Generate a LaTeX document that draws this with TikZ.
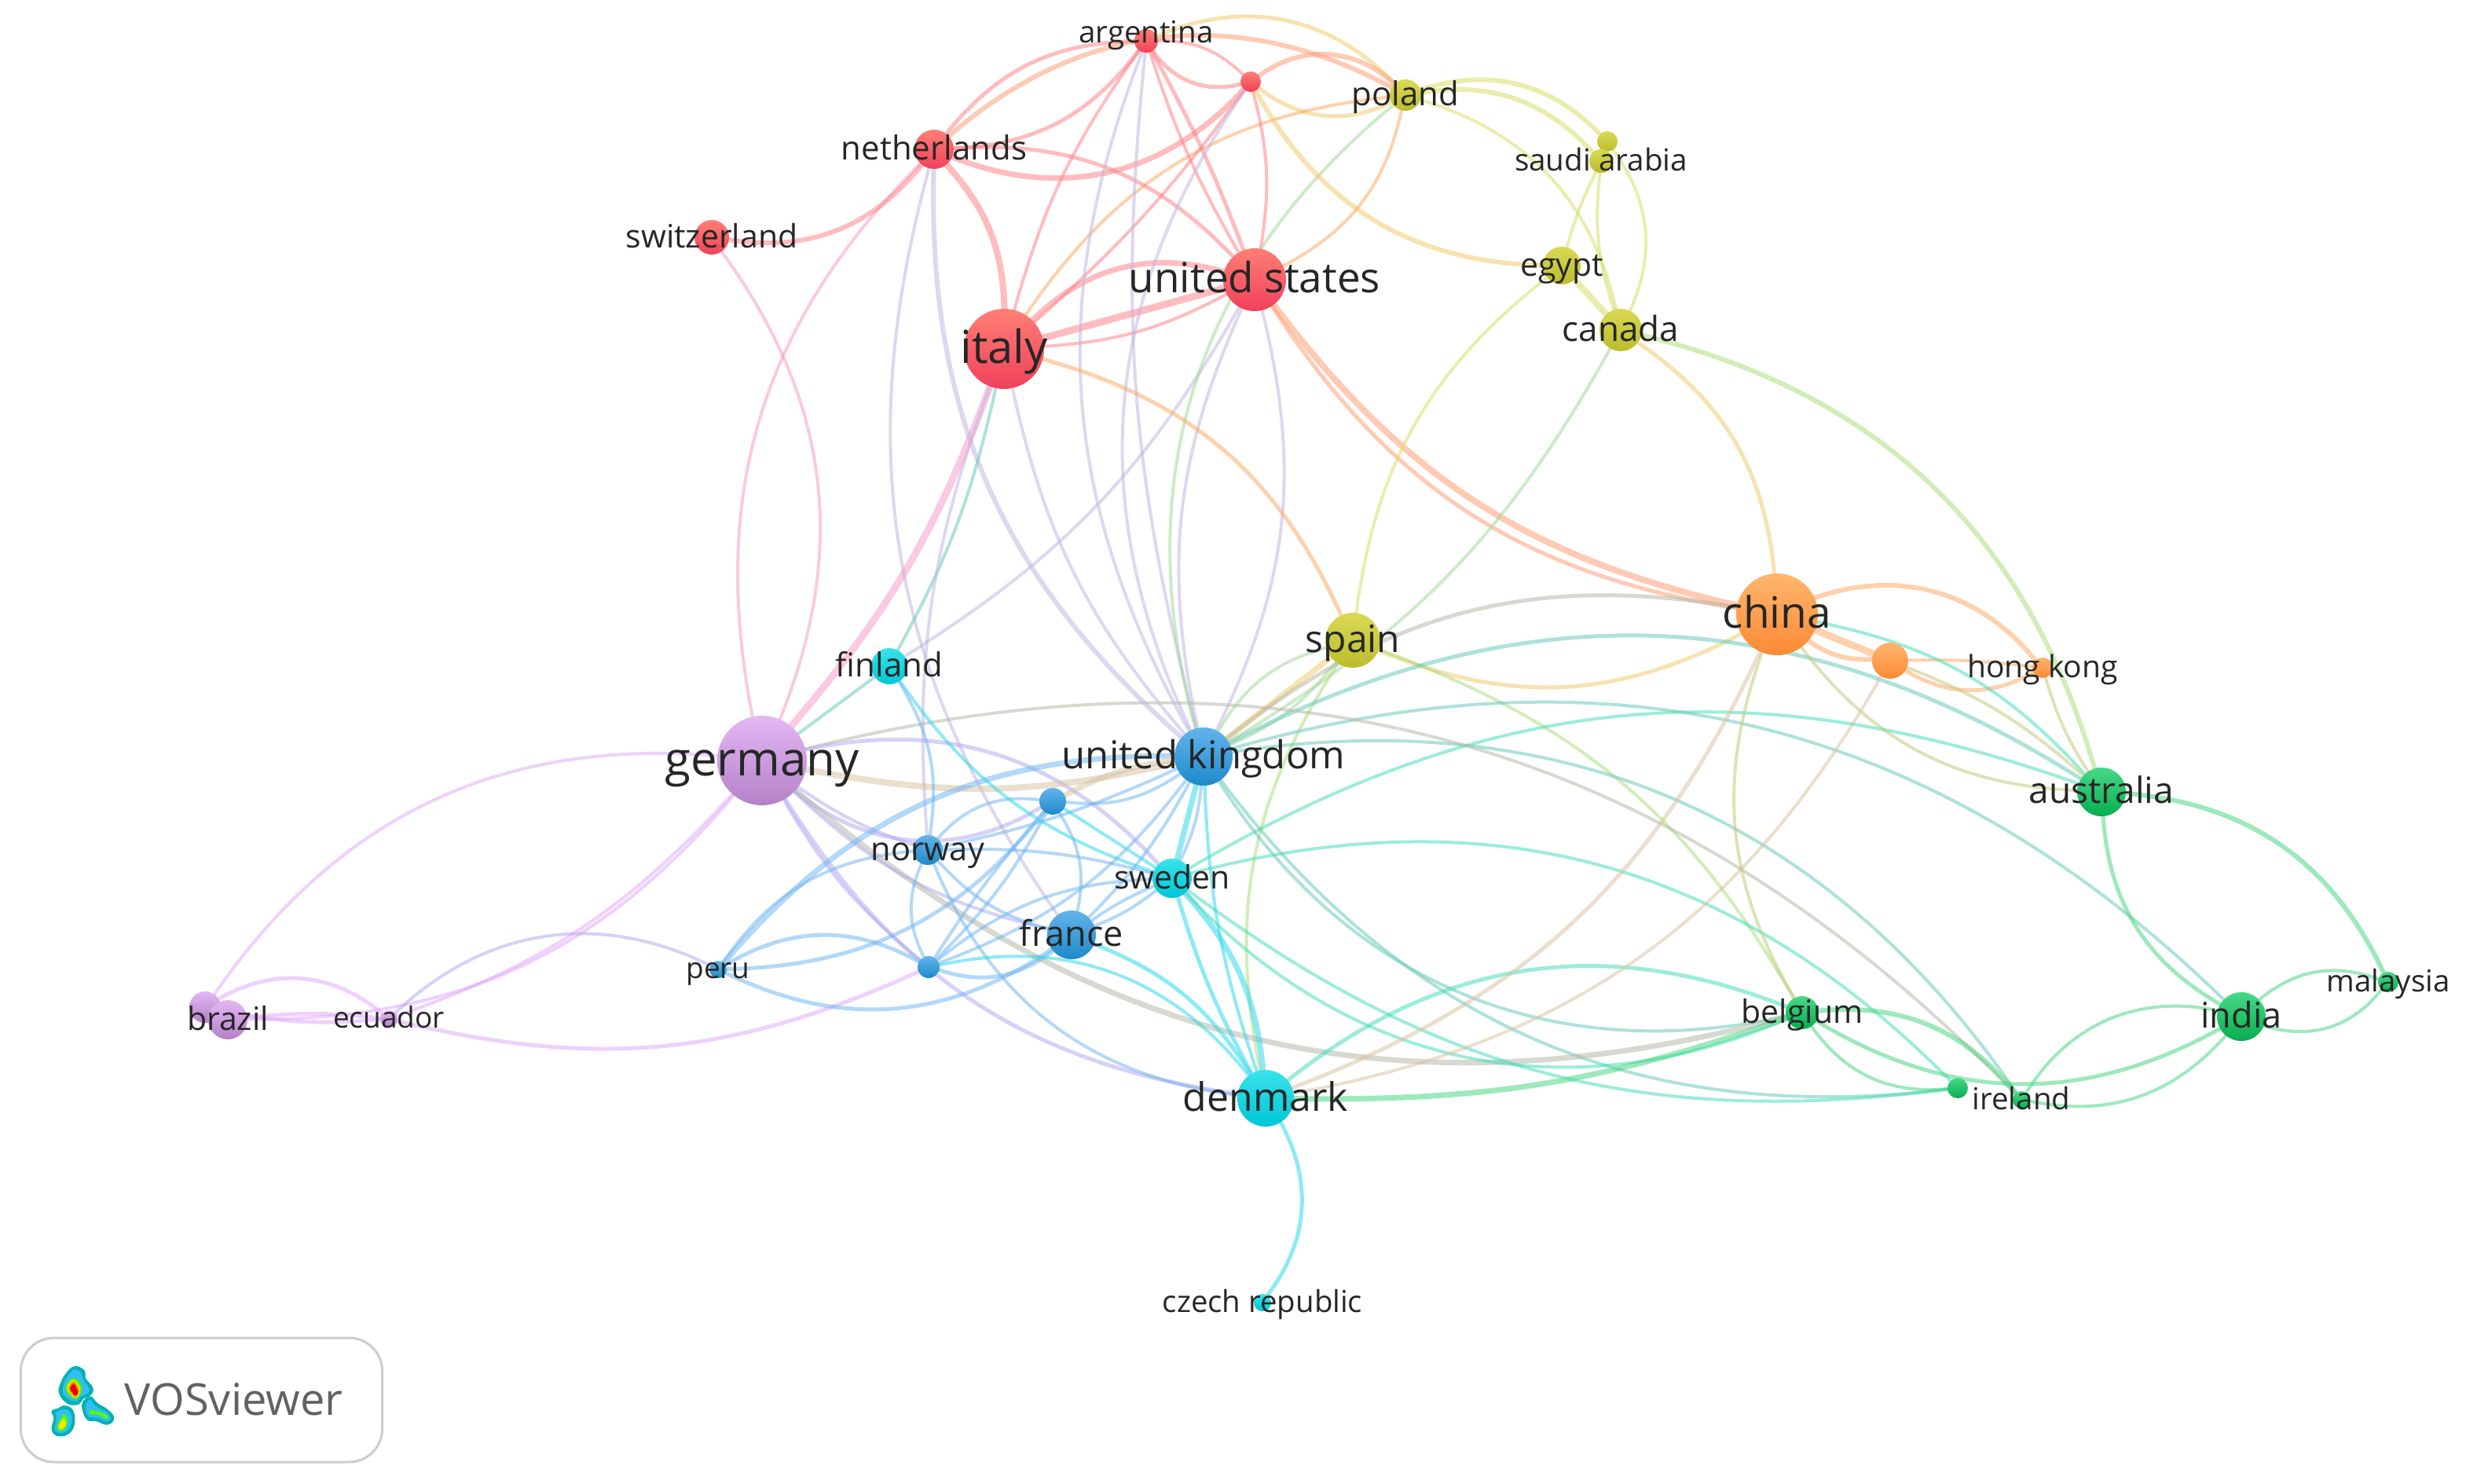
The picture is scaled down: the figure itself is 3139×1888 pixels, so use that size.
\documentclass[tikz,border=0pt]{standalone}
\usepackage{fontspec}
\setmainfont{Open Sans}
\pgfdeclarelayer{edges}
\pgfsetlayers{edges,main}
\definecolor{eR}{HTML}{FF8085}
\definecolor{eP}{HTML}{F59AC6}
\definecolor{ePu}{HTML}{E0A8FA}
\definecolor{eB}{HTML}{6FB6F2}
\definecolor{eC}{HTML}{25D8EA}
\definecolor{eG}{HTML}{45D57F}
\definecolor{eO}{HTML}{FDA860}
\definecolor{eY}{HTML}{D6DE60}
\definecolor{eRO}{HTML}{FF9A70}
\definecolor{eRB}{HTML}{C0B4E2}
\definecolor{eYG}{HTML}{A8DE78}
\definecolor{eYB}{HTML}{A0D898}
\definecolor{eCG}{HTML}{40DDB8}
\definecolor{eBG}{HTML}{62C8B8}
\definecolor{eOB}{HTML}{D8C2A0}
\definecolor{ePB}{HTML}{B0A8F0}
\definecolor{eGr}{HTML}{B4B8A8}
\definecolor{eOG}{HTML}{C0C878}
\definecolor{eYO}{HTML}{F0C868}
\definecolor{cRt}{HTML}{FF7F75}\definecolor{cRb}{HTML}{F0405A}
\definecolor{cYt}{HTML}{D9D955}\definecolor{cYb}{HTML}{BCBC2C}
\definecolor{cOt}{HTML}{FFB56E}\definecolor{cOb}{HTML}{FB8A34}
\definecolor{cGt}{HTML}{48D888}\definecolor{cGb}{HTML}{06AE50}
\definecolor{cCt}{HTML}{38E2EA}\definecolor{cCb}{HTML}{00C6D6}
\definecolor{cBt}{HTML}{62B4EA}\definecolor{cBb}{HTML}{1E8ACA}
\definecolor{cPt}{HTML}{E2B8F4}\definecolor{cPb}{HTML}{B580C8}
\definecolor{lab}{HTML}{262626}
\colorlet{logoT}{teal!60!cyan}
\colorlet{logoC}{cyan!80!white}
\tikzset{
  x=.25pt,y=-.25pt,
  edgeline/.style={draw opacity=.52,line cap=round,fill=none},
  bub/.style={circle,inner sep=0pt,outer sep=0pt,minimum size=#1},
  red/.style={top color=cRt,bottom color=cRb},
  oli/.style={top color=cYt,bottom color=cYb},
  ora/.style={top color=cOt,bottom color=cOb},
  gre/.style={top color=cGt,bottom color=cGb},
  cya/.style={top color=cCt,bottom color=cCb},
  blu/.style={top color=cBt,bottom color=cBb},
  pur/.style={top color=cPt,bottom color=cPb},
}
% [label lift], name, x, y, radius, style, text, font size (all in reference pixels)
\newcommand\N[8][0]{\pgfmathsetmacro\fsz{#8*.25}\pgfmathsetmacro\fht{#8*.25*.64}\pgfmathsetmacro\lft{#1*.25}%
\node[bub=#5*.5pt,#6,label={[text=lab,inner sep=0pt,yshift=\lft pt,text height=\fht pt,text depth=0pt,font=\fontsize{\fsz}{\fsz}\selectfont]center:#7}] (#2) at (#3,#4) {};}
\newcommand\E[5]{\draw[edgeline,#4,line width=#5*.25pt] (#1) to[bend left=#3] (#2);}
\begin{document}
\begin{tikzpicture}
\useasboundingbox (0,0) rectangle (3139,1888);
\begin{pgfonlayer}{edges}
\fill[white] (0,0) rectangle (3139,1888);
\end{pgfonlayer}
% nodes
\N{ger}{970}{968}{57}{pur}{germany}{60}
\N{ita}{1278}{444}{51}{red}{italy}{58}
\N{usa}{1597}{356}{40}{red}{united states}{53}
\N{net}{1189}{190}{25}{red}{netherlands}{42}
\N[10]{arg}{1459}{52}{15}{red}{argentina}{38.5}
\N{unr}{1592}{104}{13}{red}{}{10}
\N{swi}{906}{302}{22}{red}{switzerland}{41}
\N{pol}{1789}{121}{20}{oli}{poland}{42}
\N{sau0}{2046}{180}{13}{oli}{}{10}
\N{sau}{2038}{205}{15}{oli}{saudi arabia}{38.6}
\N{egy}{1988}{338}{24}{oli}{egypt}{41}
\N{can}{2063}{420}{27}{oli}{canada}{44}
\N{spa}{1722}{815}{35}{oli}{spain}{48}
\N{chi}{2262}{782}{52}{ora}{china}{55}
\N{ors}{2406}{841}{23}{ora}{}{10}
\N{hkg}{2600}{850}{13}{ora}{hong kong}{39}
\N{fin}{1132}{848}{23}{cya}{finland}{42}
\N{swe}{1492}{1118}{25}{cya}{sweden}{41}
\N{den}{1611}{1398}{36}{cya}{denmark}{50}
\N{cze}{1607}{1658}{11}{cya}{czech republic}{38.4}
\N{ukd}{1532}{963}{37}{blu}{united kingdom}{49}
\N{sbl}{1340}{1020}{17}{blu}{}{10}
\N{nor}{1181}{1082}{19}{blu}{norway}{41.6}
\N{fra}{1364}{1190}{31}{blu}{france}{45}
\N{sb2}{1182}{1231}{14}{blu}{}{10}
\N{per}{914}{1234}{11}{blu}{peru}{37}
\N{bra0}{261}{1282}{20}{pur}{}{10}
\N{bra}{290}{1298}{25}{pur}{brazil}{41}
\N{ecu}{495}{1297}{11}{pur}{ecuador}{37}
\N{aus}{2675}{1008}{31}{gre}{australia}{46}
\N{ind}{2853}{1294}{31}{gre}{india}{45}
\N{mal}{3040}{1250}{13}{gre}{malaysia}{38.4}
\N{bel}{2294}{1289}{21}{gre}{belgium}{41}
\N{gs}{2492}{1385}{13}{gre}{}{10}
\N{ire}{2573}{1400}{11}{gre}{ireland}{38.5}
\begin{pgfonlayer}{edges}
% red cluster
\E{net}{arg}{25}{eR}{5}
\E{net}{arg}{-25}{eR}{5}
\E{net}{pol}{35}{eRO}{6}
\E{arg}{pol}{35}{eYO}{5}
\E{unr}{pol}{40}{eRO}{6}
\E{unr}{pol}{-32}{eYO}{5}
\E{ita}{pol}{25}{eO}{4}
\E{arg}{unr}{-35}{eR}{5}
\E{arg}{unr}{22}{eR}{4}
\E{net}{unr}{-35}{eR}{7}
\E{net}{usa}{25}{eR}{5}
\E{net}{ita}{20}{eR}{8}
\E{net}{fra}{-25}{eRB}{4}
\E{net}{ger}{-28}{eP}{4}
\E{net}{swi}{30}{eR}{6}
\E{swi}{ger}{29}{eP}{4}
\E{net}{ukd}{-25}{eRB}{6}
\E{ita}{arg}{10}{eR}{4}
\E{ita}{unr}{-6}{eR}{4}
\E{ita}{usa}{30}{eR}{7}
\E{ita}{usa}{0}{eR}{9}
\E{ita}{usa}{-12}{eR}{4}
\E{ger}{ita}{-10}{eP}{9}
\E{fin}{ita}{-8}{eBG}{4}
\E{fin}{usa}{-14}{eRB}{4}
\E{arg}{usa}{4}{eR}{5}
\E{arg}{usa}{-6}{eR}{4}
\E{unr}{usa}{12}{eR}{4}
\E{arg}{ukd}{-25}{eRB}{4}
\E{arg}{ukd}{-10}{eRB}{4}
\E{unr}{ukd}{-30}{eRB}{4}
\E{usa}{ukd}{20}{eRB}{4}
\E{usa}{ukd}{-18}{eRB}{4}
\E{pol}{ukd}{-33}{eYB}{4}
\E{ita}{nor}{-12}{eRB}{4}
\E{ita}{ukd}{-14}{eRB}{4}
\E{ita}{spa}{25}{eO}{5}
\E{usa}{chi}{-20}{eRO}{8}
\E{usa}{chi}{-24}{eRO}{5}
% olive cluster
\E{unr}{egy}{-30}{eYO}{6}
\E{pol}{usa}{25}{eO}{4}
\E{pol}{sau0}{32}{eY}{6}
\E{pol}{sau}{28}{eY}{6}
\E{pol}{can}{30}{eY}{4}
\E{sau}{egy}{-5}{eY}{4}
\E{sau}{can}{-12}{eY}{4}
\E{sau0}{can}{30}{eY}{4}
\E{egy}{can}{0}{eY}{8}
\E{egy}{spa}{-22}{eY}{4}
\E{can}{ukd}{15}{eYB}{4}
\E{can}{chi}{25}{eYO}{5}
\E{can}{aus}{30}{eYG}{6}
\E{spa}{chi}{-25}{eYO}{5}
\E{spa}{ukd}{0}{eYO}{7}
\E{spa}{ukd}{-22}{eYB}{4}
\E{ukd}{spa}{-14}{eYB}{4}
\E{spa}{bel}{20}{eYG}{4}
\E{spa}{den}{-22}{eYG}{4}
\E{ukd}{chi}{24}{eGr}{5}
% uk outward
\E{ukd}{aus}{30}{eBG}{5}
\E{swe}{aus}{25}{eCG}{4}
\E{ukd}{ind}{30}{eBG}{4}
\E{ukd}{ire}{32}{eBG}{4}
\E{swe}{gs}{30}{eCG}{4}
\E{ukd}{bel}{-35}{eBG}{4}
\E{ukd}{gs}{-30}{eBG}{4}
% germany
\E{ger}{bra0}{-30}{ePu}{4}
\E{ger}{bra}{25}{ePu}{4}
\E{ger}{ecu}{14}{ePu}{4}
\E{bra0}{ecu}{35}{ePu}{5}
\E{bra}{ecu}{6}{ePu}{5}
\E{bra0}{ecu}{-8}{ePu}{5}
\E{ecu}{per}{35}{ePB}{4}
\E{ecu}{sb2}{-19}{ePu}{5}
\E{ger}{fin}{0}{eBG}{4}
\E{ger}{ire}{30}{eGr}{4}
\E{ger}{swe}{30}{ePB}{5}
\E{ger}{ukd}{-12}{eOB}{8}
\E{ger}{sbl}{-35}{ePB}{5}
\E{ger}{nor}{-8}{ePB}{4}
\E{ger}{bel}{-28}{eGr}{7}
\E{ger}{den}{-25}{ePB}{5}
\E{ger}{sb2}{-10}{ePB}{4}
\E{ger}{fra}{-15}{ePB}{4}
% blue
\E{per}{ukd}{25}{eB}{7}
\E{per}{nor}{25}{eB}{4}
\E{per}{sb2}{30}{eB}{5}
\E{per}{sbl}{-25}{eB}{5}
\E{per}{fra}{-30}{eB}{5}
\E{nor}{ukd}{-6}{eB}{4}
\E{nor}{sbl}{28}{eB}{4}
\E{nor}{sb2}{-25}{eB}{4}
\E{nor}{fra}{-16}{eB}{4}
\E{nor}{den}{-30}{eB}{4}
\E{nor}{swe}{8}{eB}{4}
\E{fin}{swe}{-18}{eC}{4}
\E{fin}{nor}{20}{eB}{4}
\E{sbl}{ukd}{10}{eOB}{7}
\E{sbl}{ukd}{-20}{eB}{4}
\E{sbl}{sb2}{-4}{eB}{4}
\E{sbl}{sb2}{8}{eB}{4}
\E{sbl}{fra}{22}{eB}{4}
\E{sbl}{swe}{0}{eC}{4}
\E{sb2}{ukd}{-16}{eB}{4}
\E{sb2}{fra}{-28}{eB}{5}
\E{sb2}{den}{32}{eC}{4}
\E{sb2}{swe}{18}{eB}{4}
\E{fra}{swe}{6}{eB}{4}
\E{fra}{swe}{-8}{eB}{4}
\E{fra}{ukd}{-8}{eB}{4}
\E{fra}{den}{18}{eC}{5}
\E{swe}{ukd}{0}{eC}{7}
\E{swe}{ukd}{-10}{eB}{4}
\E{ukd}{den}{-8}{eC}{4}
\E{swe}{den}{-6}{eC}{5}
\E{swe}{den}{18}{eC}{7}
\E{swe}{gs}{-22}{eCG}{4}
\E{swe}{bel}{-35}{eCG}{4}
% denmark / green
\E{den}{bel}{-10}{eG}{7}
\E{den}{bel}{30}{eCG}{5}
\E{den}{cze}{33}{eC}{5}
\E{den}{chi}{-22}{eOB}{5}
\E{den}{ors}{-25}{eOB}{4}
\E{chi}{bel}{-25}{eOG}{4}
\E{chi}{ors}{0}{eO}{9}
\E{chi}{ors}{-18}{eO}{6}
\E{chi}{hkg}{35}{eO}{6}
\E{ors}{hkg}{-30}{eO}{5}
\E{ors}{hkg}{4}{eO}{4}
\E{chi}{aus}{-25}{eOG}{4}
\E{chi}{aus}{18}{eCG}{4}
\E{ors}{aus}{10}{eOG}{4}
\E{hkg}{aus}{-8}{eOG}{4}
\E{aus}{ind}{-28}{eG}{5}
\E{aus}{mal}{30}{eG}{6}
\E{ind}{mal}{30}{eG}{4}
\E{ind}{mal}{-35}{eG}{4}
\E{ind}{ire}{-35}{eG}{4}
\E{ind}{ire}{30}{eG}{4}
\E{ind}{bel}{30}{eG}{5}
\E{bel}{ire}{28}{eG}{6}
\E{bel}{gs}{-30}{eG}{4}
\end{pgfonlayer}
% legend
\node[draw=black!20,line width=.75pt,rounded corners=10.5pt,minimum width=115pt,minimum height=39.5pt,inner sep=0pt,fill=white] (legend) at (256.5,1782) {};
\node[text=black!62,font=\fontsize{14}{14}\selectfont,anchor=west,inner sep=0pt] (vos) at (158,1781) {VOSviewer};
\begin{scope}[shift={(0,1680)},x=.08333pt,y=-.08333pt]
\filldraw[logoT,line width=.5pt] plot[smooth cycle,tension=.7] coordinates {(285,180)(320,195)(325,225)(352,260)(345,285)(315,300)(300,320)(260,318)(228,280)(235,240)(255,205)};
\filldraw[logoT,line width=.5pt] plot[smooth cycle,tension=.7] coordinates {(245,330)(275,345)(283,390)(265,430)(225,442)(200,420)(208,375)(200,350)(225,340)};
\filldraw[logoT,line width=.5pt] plot[smooth cycle,tension=.7] coordinates {(345,295)(370,320)(410,345)(433,375)(410,398)(370,385)(335,380)(318,345)(318,315)};
\fill[logoC] plot[smooth cycle,tension=.7] coordinates {(285,190)(312,205)(318,230)(340,262)(335,280)(310,292)(295,310)(265,305)(240,278)(245,240)(262,210)};
\fill[logoC] plot[smooth cycle,tension=.7] coordinates {(245,342)(268,352)(274,390)(258,422)(228,432)(210,418)(216,375)(212,355)};
\fill[logoC] plot[smooth cycle,tension=.7] coordinates {(345,305)(365,330)(405,352)(423,375)(408,388)(372,375)(338,370)(328,345)(328,320)};
\fill[green!75!yellow] plot[smooth cycle,tension=.7] coordinates {(282,222)(305,240)(312,272)(292,302)(268,292)(250,262)(262,235)};
\fill[yellow!90!orange] plot[smooth cycle,tension=.7] coordinates {(282,230)(300,248)(306,272)(290,298)(270,285)(256,262)(266,240)};
\fill[orange] plot[smooth cycle,tension=.7] coordinates {(282,235)(297,255)(302,272)(288,294)(272,280)(262,262)(270,245)};
\fill[red!90!black] plot[smooth cycle,tension=.7] coordinates {(282,245)(292,262)(298,278)(288,290)(275,275)(268,260)};
\fill[green!70!yellow] plot[smooth cycle,tension=.7] coordinates {(245,360)(258,385)(250,415)(230,425)(218,410)(228,385)};
\fill[yellow!90!orange] plot[smooth cycle,tension=.7] coordinates {(242,378)(252,392)(244,412)(230,418)(224,405)(232,390)};
\fill[green!65!yellow] plot[smooth cycle,tension=.7] coordinates {(345,345)(380,352)(412,368)(405,378)(375,362)(345,360)};
\end{scope}
\end{tikzpicture}
\end{document}
